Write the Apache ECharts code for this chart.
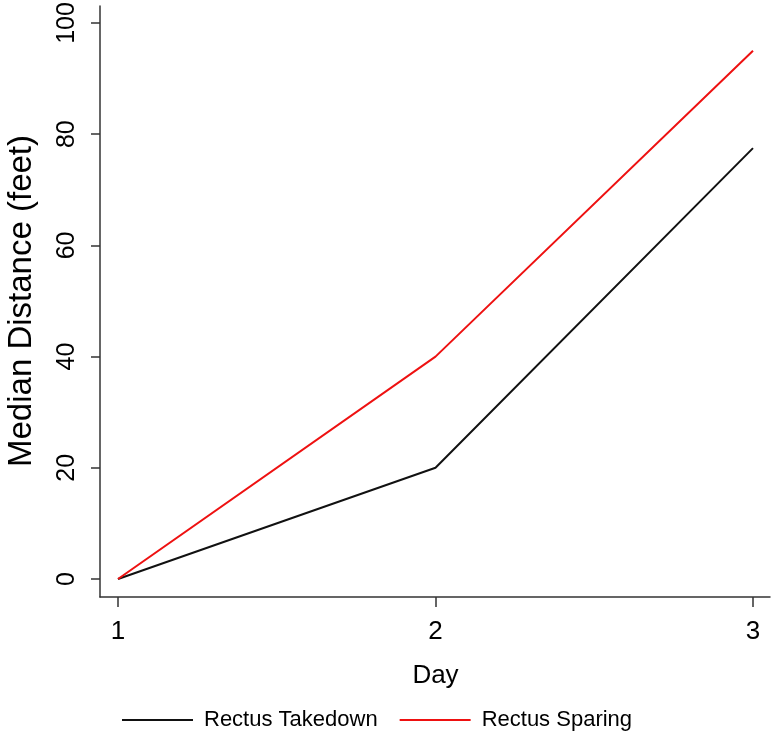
<!DOCTYPE html>
<html>
<head>
<meta charset="utf-8">
<script src="https://cdn.jsdelivr.net/npm/echarts@6/dist/echarts.min.js"></script>
<style>
html,body{margin:0;padding:0;background:#fff;}
#chart{width:774px;height:743px;}
</style>
</head>
<body>
<div id="chart"></div>
<script>
const days = [1, 2, 3];
const takedown = [0, 20, 77.5];
const sparing = [0, 40, 95];
const seriesNames = ['Rectus Takedown', 'Rectus Sparing'];
const yTicks = [0, 20, 40, 60, 80, 100];
const xTitle = 'Day';
const yTitle = 'Median Distance (feet)';

const FONT = '"Liberation Sans", Arial, Helvetica, sans-serif';
const chart = echarts.init(document.getElementById('chart'), null, {renderer: 'canvas'});

const pairs = (xs, ys) => xs.map((x, i) => [x, ys[i]]);
const hiddenAxis = (g) => ({
  gridIndex: g, type: 'value', show: false
});
const AX = '#333';

chart.setOption({
  backgroundColor: '#ffffff',
  animation: false,
  textStyle: {fontFamily: FONT},
  grid: [
    // 0: data area (x: 1..3, y: 0..100)
    {left: 118, right: 21, top: 23, bottom: 164, outerBoundsMode: 'none', containLabel: false},
    // 1: axis frame lines
    {left: 100, right: 4, top: 6, bottom: 146, outerBoundsMode: 'none', containLabel: false},
    // 2: x ticks/labels at frame bottom
    {left: 118, right: 21, top: 23, bottom: 146, outerBoundsMode: 'none', containLabel: false},
    // 3: y ticks/labels at frame left
    {left: 100, right: 21, top: 23, bottom: 164, outerBoundsMode: 'none', containLabel: false}
  ],
  xAxis: [
    {gridIndex: 0, type: 'value', min: days[0], max: days[days.length - 1], show: false},
    {
      gridIndex: 1, type: 'value', min: 0, max: 1,
      axisLine: {show: true, lineStyle: {color: AX, width: 1.5}},
      axisTick: {show: false}, axisLabel: {show: false}, splitLine: {show: false}
    },
    {
      gridIndex: 2, type: 'value', min: days[0], max: days[days.length - 1], interval: 1,
      position: 'bottom',
      name: xTitle, nameLocation: 'middle', nameGap: 66,
      nameTextStyle: {fontSize: 26, color: '#000', fontFamily: FONT},
      axisLine: {show: false},
      axisTick: {show: true, inside: false, length: 10, lineStyle: {color: AX, width: 1.5}},
      axisLabel: {fontSize: 26, color: '#000', margin: 22, fontFamily: FONT},
      splitLine: {show: false}
    },
    hiddenAxis(3)
  ],
  yAxis: [
    {gridIndex: 0, type: 'value', min: yTicks[0], max: yTicks[yTicks.length - 1], show: false},
    {
      gridIndex: 1, type: 'value', min: 0, max: 1,
      axisLine: {show: true, lineStyle: {color: AX, width: 1.5}},
      axisTick: {show: false}, axisLabel: {show: false}, splitLine: {show: false}
    },
    hiddenAxis(2),
    {
      gridIndex: 3, type: 'value', min: yTicks[0], max: yTicks[yTicks.length - 1], interval: 20,
      position: 'left',
      name: yTitle, nameLocation: 'middle', nameGap: 62,
      nameTextStyle: {fontSize: 33, color: '#000', fontFamily: FONT},
      axisLine: {show: false},
      axisTick: {show: true, inside: false, length: 9, lineStyle: {color: AX, width: 1.5}},
      axisLabel: {fontSize: 25, color: '#000', rotate: 90, margin: 20, fontFamily: FONT},
      splitLine: {show: false}
    }
  ],
  legend: {
    top: 704, left: 117,
    icon: 'rect',
    itemWidth: 71, itemHeight: 2, itemGap: 22,
    textStyle: {fontSize: 22, color: '#000', fontFamily: FONT, padding: [0, 0, 0, 6]},
    data: seriesNames
  },
  series: [
    {
      name: seriesNames[0], type: 'line', xAxisIndex: 0, yAxisIndex: 0,
      data: pairs(days, takedown), symbol: 'none',
      lineStyle: {color: '#111', width: 2}, itemStyle: {color: '#111'}
    },
    {
      name: seriesNames[1], type: 'line', xAxisIndex: 0, yAxisIndex: 0,
      data: pairs(days, sparing), symbol: 'none',
      lineStyle: {color: '#ee1111', width: 2}, itemStyle: {color: '#ee1111'}
    }
  ]
});
</script>
</body>
</html>
